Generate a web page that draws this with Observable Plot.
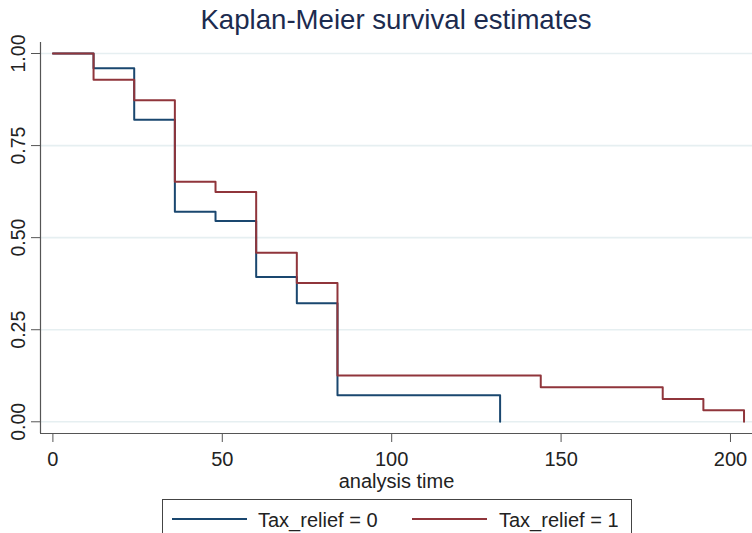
<!DOCTYPE html>
<html>
<head>
<meta charset="utf-8">
<script src="https://cdn.jsdelivr.net/npm/d3@7"></script>
<script src="https://cdn.jsdelivr.net/npm/@observablehq/plot@0.6"></script>
<style>
  body { margin: 0; background: #fff; font-family: "Liberation Sans", Arial, sans-serif; }
  #wrap { position: relative; width: 752px; height: 533px; overflow: hidden; background: #fff; }
  #title { position: absolute; left: 40px; width: 712px; top: 6px; line-height: 27px; font-size: 27.6px;
           text-align: center; color: #1c2b4f; white-space: nowrap; }
  #chart { position: absolute; left: 0; top: 40px; }
  #legend { position: absolute; left: 162px; top: 499px; width: 470px; height: 60px;
            border: 1.5px solid #444; box-sizing: border-box; }
  .sw { position: absolute; top: 18px; height: 0; border-top: 2px solid; width: 75px; }
  .lt { position: absolute; top: 10px; font-size: 20px; line-height: 20px; color: #222; white-space: nowrap; }
</style>
</head>
<body>
<div id="wrap">
  <div id="title"></div>
  <div id="chart"></div>
  <div id="legend"></div>
</div>
<script>
// ---- data ----
const titleText = "Kaplan-Meier survival estimates";
const xLabel = "analysis time";
const seriesNames = ["Tax_relief = 0", "Tax_relief = 1"];
const seriesColors = ["#1a476f", "#90353b"];
const times0 = [0, 12, 24, 36, 48, 60, 72, 84, 132];
const surv0  = [1, 0.96, 0.82, 0.57, 0.545, 0.393, 0.322, 0.072, 0];
const times1 = [0, 12, 24, 36, 48, 60, 72, 84, 144, 180, 192, 204];
const surv1  = [1, 0.929, 0.873, 0.652, 0.624, 0.459, 0.377, 0.126, 0.094, 0.062, 0.031, 0];
const xTicks = [0, 50, 100, 150, 200];
const yTicks = [0, 0.25, 0.5, 0.75, 1];
const xDomain = [-3.66, 206.5];
const yDomain = [-0.0318, 1.0299];

const data0 = times0.map((t, i) => ({t, s: surv0[i]}));
const data1 = times1.map((t, i) => ({t, s: surv1[i]}));

document.getElementById("title").textContent = titleText;

const axisColor = "#555";
const plot = Plot.plot({
  width: 752,
  height: 459,
  marginLeft: 40,
  marginRight: 0,
  marginTop: 2,
  marginBottom: 66,
  x: {domain: xDomain, label: null},
  y: {domain: yDomain, label: null},
  style: {fontFamily: "Liberation Sans, Arial, sans-serif", background: "transparent", overflow: "visible", color: "#222"},
  marks: [
    Plot.ruleY(yTicks, {stroke: "#e6eff1", strokeWidth: 1.6}),
    Plot.line(data0, {x: "t", y: "s", curve: "step-after", stroke: seriesColors[0], strokeWidth: 2}),
    Plot.line(data1, {x: "t", y: "s", curve: "step-after", stroke: seriesColors[1], strokeWidth: 2}),
    Plot.ruleX([xDomain[0]], {stroke: axisColor, strokeWidth: 1.2}),
    Plot.ruleY([yDomain[0]], {stroke: axisColor, strokeWidth: 1.2}),
    Plot.axisY({ticks: yTicks, tickSize: 9, tickFormat: () => "", stroke: axisColor, label: null}),
    Plot.text(yTicks, {y: d => d, text: d => d.toFixed(2), frameAnchor: "left", textAnchor: "middle",
                       lineAnchor: "middle", dx: -22, rotate: -90, fontSize: 19.5, fill: "#222"}),
    Plot.axisX({ticks: xTicks, tickSize: 9, tickPadding: 9, fontSize: 20, stroke: axisColor, fill: "#222", label: null}),
    Plot.text([xLabel], {frameAnchor: "bottom", dy: 54, lineAnchor: "bottom", fontSize: 20, fill: "#222"})
  ]
});
document.getElementById("chart").appendChild(plot);

// legend
const legend = document.getElementById("legend");
const swLeft = [9, 249];
const txtLeft = [95, 336];
seriesNames.forEach((name, i) => {
  const sw = document.createElement("div");
  sw.className = "sw";
  sw.style.left = swLeft[i] + "px";
  sw.style.borderTopColor = seriesColors[i];
  legend.appendChild(sw);
  const lt = document.createElement("div");
  lt.className = "lt";
  lt.style.left = txtLeft[i] + "px";
  lt.textContent = name;
  legend.appendChild(lt);
});
</script>
</body>
</html>
